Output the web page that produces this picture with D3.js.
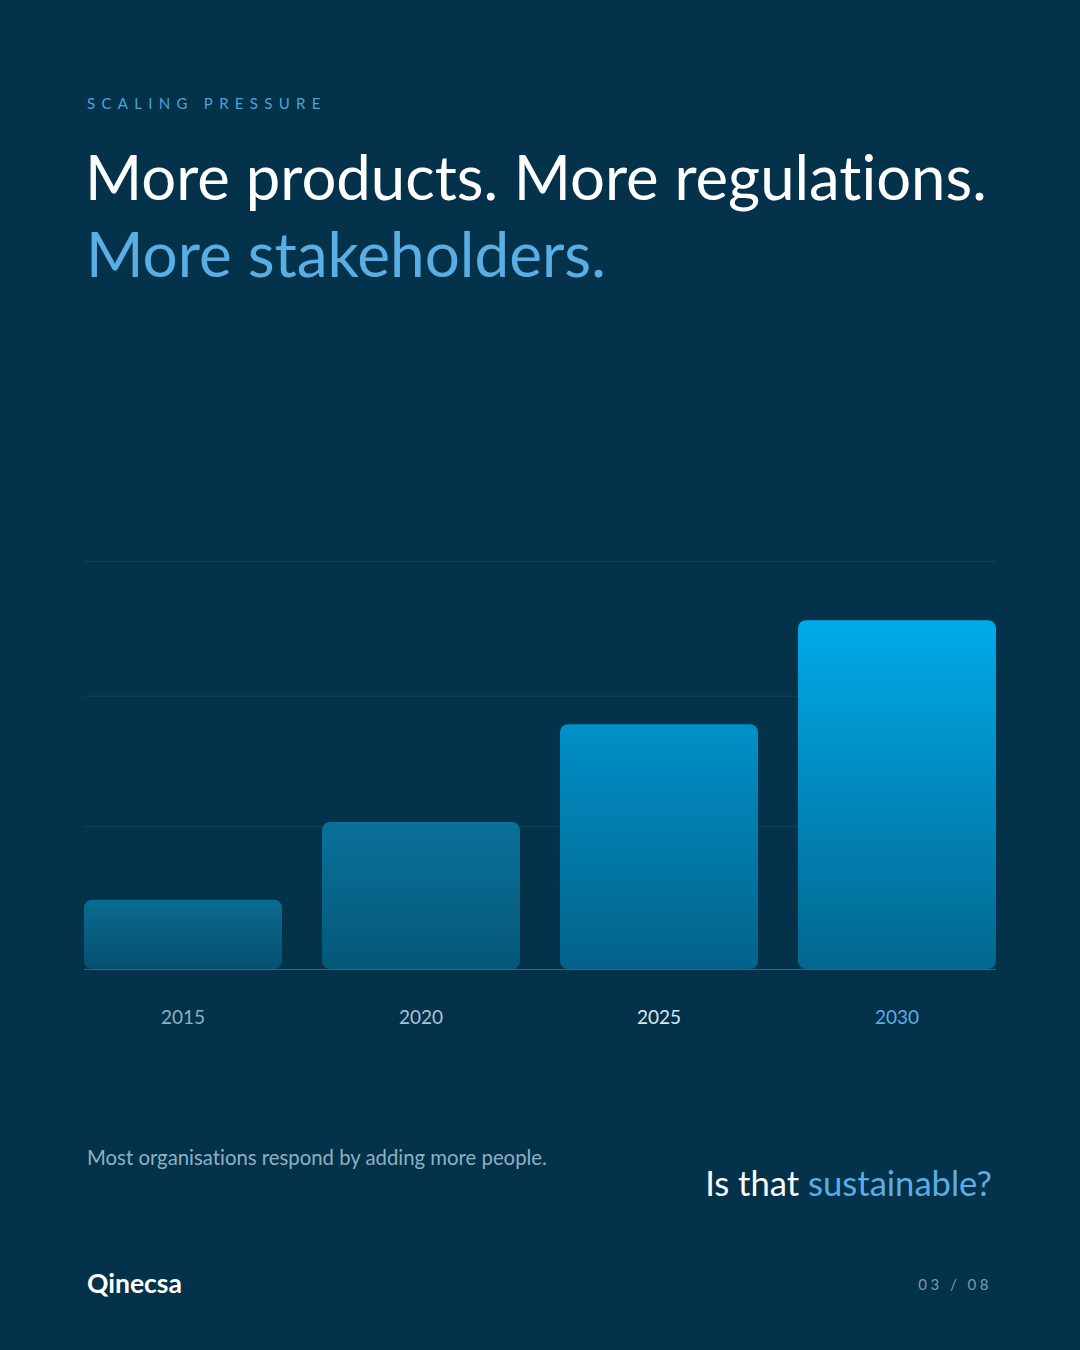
<!DOCTYPE html>
<html>
<head>
<meta charset="utf-8">
<script src="https://cdn.jsdelivr.net/npm/d3@7"></script>
<style>
  html, body { margin: 0; padding: 0; background: #03324a; }
  svg { display: block; }
  text { font-family: Lato, "Noto Sans", sans-serif; font-variant-ligatures: none; }
</style>
</head>
<body>
<div id="chart"></div>
<script>
// data
const years = ['2015', '2020', '2025', '2030'];
const values = [17, 36, 60, 85.5];
const gridValues = [35, 67, 100];

// style
const barTop = ['#0b6b91', '#0a719a', '#0090c8', '#00aaea'];
const barBottom = ['#06506f', '#045878', '#03628a', '#02678f'];
const labelColors = ['#8fb0c0', '#a9c4d1', '#dbe9f0', '#5aaee3'];

const W = 1080, H = 1350;
const svg = d3.select('#chart').append('svg').attr('width', W).attr('height', H);
svg.append('rect').attr('width', W).attr('height', H).attr('fill', '#03324a');

// fits a text element to a target width by tuning its font-size
function fit(sel, target) {
  let fs = +sel.attr('font-size');
  let w = sel.node().getComputedTextLength();
  sel.attr('font-size', fs * target / w);
}

svg.append('text')
  .attr('x', 87).attr('y', 109)
  .attr('font-size', 15).attr('letter-spacing', 6.3)
  .attr('fill', '#4fa3d6')
  .text('SCALING PRESSURE');

let t1 = svg.append('text')
  .attr('x', 85).attr('y', 200)
  .attr('font-size', 60).attr('fill', '#ffffff')
  .text('More products. More regulations.');
fit(t1, 902);

let t2 = svg.append('text')
  .attr('x', 86).attr('y', 277)
  .attr('font-size', 60).attr('fill', '#5aaee3')
  .text('More stakeholders.');
fit(t2, 520);

// chart
const margin = { left: 84, right: 84, top: 561, bottom: 969 };
const x = d3.scaleBand().domain(years)
  .range([margin.left, W - margin.right])
  .paddingInner(40 / 238).paddingOuter(0);
const y = d3.scaleLinear().domain([0, 100]).range([margin.bottom, margin.top]);

const g = svg.append('g');

g.selectAll('.grid').data(gridValues).enter().append('line')
  .attr('class', 'grid')
  .attr('x1', margin.left).attr('x2', W - margin.right)
  .attr('y1', d => y(d) + 0.5).attr('y2', d => y(d) + 0.5)
  .attr('stroke', '#0f4459').attr('stroke-width', 1);

const defs = svg.append('defs');
years.forEach((yr, i) => {
  const grad = defs.append('linearGradient')
    .attr('id', 'grad' + i)
    .attr('x1', 0).attr('y1', 0).attr('x2', 0).attr('y2', 1);
  grad.append('stop').attr('offset', '0%').attr('stop-color', barTop[i]);
  grad.append('stop').attr('offset', '100%').attr('stop-color', barBottom[i]);
});

g.selectAll('.bar').data(values).enter().append('rect')
  .attr('class', 'bar')
  .attr('x', (d, i) => x(years[i]))
  .attr('y', d => y(d))
  .attr('width', x.bandwidth())
  .attr('height', d => y(0) - y(d))
  .attr('rx', 8).attr('ry', 8)
  .attr('fill', (d, i) => 'url(#grad' + i + ')');

// baseline
g.append('line')
  .attr('x1', margin.left).attr('x2', W - margin.right)
  .attr('y1', y(0) + 0.5).attr('y2', y(0) + 0.5)
  .attr('stroke', '#2a6a82').attr('stroke-width', 1);

const xAxis = g.append('g')
  .attr('transform', `translate(0, ${y(0)})`)
  .call(d3.axisBottom(x).tickSize(0).tickPadding(42));
xAxis.select('.domain').remove();
xAxis.selectAll('text')
  .attr('font-size', 19)
  .attr('font-family', 'Lato, "Noto Sans", sans-serif')
  .attr('fill', (d, i) => labelColors[i]);

// footer texts
let note = svg.append('text')
  .attr('x', 87).attr('y', 1165)
  .attr('font-size', 19).attr('fill', '#8fb0c0')
  .text('Most organisations respond by adding more people.');
fit(note, 460);

let q = svg.append('text')
  .attr('x', 992).attr('y', 1196)
  .attr('text-anchor', 'end')
  .attr('font-size', 32).attr('fill', '#ffffff');
q.append('tspan').text('Is that ');
q.append('tspan').attr('fill', '#5aaee3').text('sustainable?');
fit(q, 287);

let logo = svg.append('text')
  .attr('x', 87).attr('y', 1293)
  .attr('font-size', 22).attr('font-weight', 700).attr('fill', '#ffffff')
  .text('Qinecsa');
fit(logo, 95);

svg.append('text')
  .attr('x', 992).attr('y', 1290)
  .attr('text-anchor', 'end')
  .attr('font-size', 15).attr('letter-spacing', 3.5)
  .attr('fill', '#7f9aa8')
  .text('03 / 08');
</script>
</body>
</html>
